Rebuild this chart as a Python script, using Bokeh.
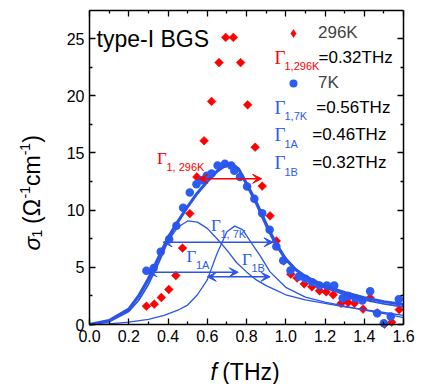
import numpy as np
from bokeh.plotting import figure
from bokeh.models import (Range1d, LinearAxis, FixedTicker, Label, Arrow, VeeHead,
                          Legend, LegendItem, PrintfTickFormatter)
from bokeh.embed import file_html
from bokeh.resources import INLINE

# ---- data ----
red_x = [0.290, 0.330, 0.366, 0.404, 0.440, 0.474, 0.511, 0.547, 0.584, 0.622, 0.660, 0.694,
         0.733, 0.770, 0.806, 0.844, 0.880, 0.920, 0.952, 0.990, 1.026, 1.058, 1.094, 1.133,
         1.172, 1.206, 1.242, 1.282, 1.318, 1.350, 1.394, 1.430, 1.466, 1.503, 1.540, 1.578]
red_y = [1.60, 1.78, 2.36, 3.06, 4.28, 6.68, 9.70, 12.90, 16.06, 19.50, 22.90, 25.10,
         25.10, 22.90, 19.20, 15.50, 12.10, 9.50, 7.30, 5.57, 4.40, 4.06, 3.55, 3.30,
         2.95, 2.85, 2.60, 1.85, 1.93, 1.85, 1.35, 2.33, 1.02, 0.03, 0.20, 1.30]

blue_x = [0.290, 0.327, 0.363, 0.406, 0.443, 0.477, 0.511, 0.545, 0.572, 0.597, 0.622, 0.653,
          0.690, 0.722, 0.738, 0.767, 0.803, 0.840, 0.880, 0.918, 0.952, 0.987, 1.024, 1.067,
          1.100, 1.135, 1.172, 1.210, 1.247, 1.290, 1.320, 1.355, 1.390, 1.430, 1.466, 1.500,
          1.535, 1.576]
blue_y = [4.69, 4.93, 6.35, 7.46, 8.63, 10.20, 11.54, 12.27, 12.60, 13.00, 13.20, 13.90,
          14.05, 13.90, 13.45, 12.90, 12.06, 10.99, 9.73, 8.28, 6.82, 5.60, 4.72, 4.20,
          4.00, 3.70, 3.40, 3.40, 3.40, 2.30, 2.50, 2.30, 2.10, 2.90, 0.99, 0.10,
          0.70, 2.20]

# fit curves
fit_x = [0, 0.1, 0.2, 0.25, 0.3, 0.35, 0.4, 0.45, 0.5, 0.55, 0.6, 0.65, 0.7, 0.73, 0.76,
         0.8, 0.85, 0.9, 0.95, 1.0, 1.05, 1.1, 1.2, 1.3, 1.4, 1.5, 1.6]
fit_y = [0, 0.35, 1.35, 2.5, 4.0, 5.8, 7.6, 9.0, 10.3, 11.5, 12.5, 13.4, 14.0, 14.0, 13.6,
         12.3, 10.6, 8.7, 7.0, 5.7, 4.8, 4.2, 3.35, 2.8, 2.35, 2.0, 1.75]
sum_x = [0, 0.1, 0.2, 0.25, 0.3, 0.35, 0.4, 0.45, 0.5, 0.55, 0.6, 0.65, 0.7, 0.73, 0.76,
         0.8, 0.85, 0.9, 0.95, 1.0, 1.05, 1.1, 1.2, 1.3, 1.4, 1.5, 1.6]
sum_y = [0, 0.25, 1.15, 2.1, 3.5, 5.3, 7.3, 8.9, 10.3, 11.5, 12.5, 13.4, 13.95, 13.95, 13.6,
         12.4, 10.8, 8.9, 7.2, 5.8, 4.85, 4.15, 3.2, 2.6, 2.15, 1.8, 1.55]
osc1a_x = [0, 0.1, 0.2, 0.25, 0.3, 0.35, 0.4, 0.45, 0.5, 0.55, 0.6, 0.65, 0.7, 0.75, 0.8,
           0.85, 0.9, 0.95, 1.0, 1.1, 1.2, 1.3, 1.4, 1.5, 1.6]
osc1a_y = [0, 0.3, 1.3, 2.4, 3.8, 5.6, 7.3, 8.5, 9.05, 8.95, 8.4, 7.5, 6.5, 5.4, 4.6,
           3.9, 3.4, 3.0, 2.6, 2.15, 1.85, 1.55, 1.3, 1.05, 0.8]
osc1b_x = [0, 0.1, 0.2, 0.3, 0.38, 0.45, 0.5, 0.55, 0.6, 0.65, 0.7, 0.74, 0.78, 0.83, 0.87,
           0.92, 1.0, 1.1, 1.2, 1.3, 1.4, 1.5, 1.6]
osc1b_y = [0, 0.05, 0.2, 0.45, 0.8, 1.25, 1.7, 2.6, 3.9, 6.2, 8.1, 8.6, 8.3, 7.0, 6.0,
           4.6, 3.25, 2.4, 1.95, 1.6, 1.25, 0.95, 0.6]

# widths (Gamma) and where the double arrows sit
gamma_names = ["1, 296K", "1, 7K", "1A", "1B"]
gamma_vals = [0.32, 0.56, 0.46, 0.32]
arrow_left = [0.557, 0.375, 0.298, 0.600]
arrow_level = [12.74, 7.19, 4.57, 4.17]

legend_labels = ["296K", "7K"]

# axis ticks
x_ticks = [0.0, 0.2, 0.4, 0.6, 0.8, 1.0, 1.2, 1.4, 1.6]
x_minor = [0.1, 0.3, 0.5, 0.7, 0.9, 1.1, 1.3, 1.5]
y_ticks = [0, 5, 10, 15, 20, 25]
y_minor = [2.5, 7.5, 12.5, 17.5, 22.5]
X_MAX, Y_MAX = 1.6, 27.45

RED = "#ff0000"
BLUE = "#2b5cf4"
LINE = "#2a55e8"

# page geometry of the plotting box (pixels)
W, H = 428, 384
BOX_L, BOX_R, BOX_T, BOX_B = 89.0, 403.0, 10.0, 324.0
kx = (BOX_R - BOX_L) / X_MAX
ky = (BOX_B - BOX_T) / Y_MAX

p = figure(width=W, height=H, output_backend="svg", toolbar_location=None,
           x_range=Range1d(-BOX_L / kx, (W - BOX_L) / kx),
           y_range=Range1d(-(H - BOX_B) / ky, BOX_B / ky),
           min_border_left=0, min_border_right=0, min_border_top=0, min_border_bottom=0,
           x_axis_type=None, y_axis_type=None)
p.outline_line_color = None
p.background_fill_color = "white"
p.border_fill_color = "white"


def X(sx):  # page pixel -> data x
    return (sx - BOX_L) / kx


def Y(sy):  # page pixel -> data y
    return (BOX_B - sy) / ky


def make_axis(ticks, minor, fmt, loc, bounds, labels=True):
    ax = LinearAxis(ticker=FixedTicker(ticks=ticks, minor_ticks=minor),
                    fixed_location=loc, bounds=bounds)
    ax.formatter = PrintfTickFormatter(format=fmt)
    ax.major_tick_in = 6
    ax.major_tick_out = 0
    ax.minor_tick_in = 3
    ax.minor_tick_out = 0
    ax.axis_line_width = 1.5
    ax.axis_line_color = "black"
    ax.major_tick_line_width = 1.3
    ax.minor_tick_line_width = 1.3
    ax.major_label_text_font = "Liberation Sans"
    ax.major_label_text_font_size = "16px"
    if labels:
        ax.major_label_text_color = "black"
        ax.major_label_standoff = 5
    else:
        ax.major_label_text_color = None
    return ax


p.add_layout(make_axis(x_ticks, x_minor, "%.1f", 0, (0, X_MAX)), "below")
p.add_layout(make_axis(y_ticks, y_minor, "%d", 0, (0, Y_MAX)), "left")
p.add_layout(make_axis(x_ticks, x_minor, "%.1f", Y_MAX, (0, X_MAX), False), "above")
p.add_layout(make_axis(y_ticks, y_minor, "%d", X_MAX, (0, Y_MAX), False), "right")

red = p.scatter(red_x, red_y, marker="square", angle=np.pi / 4, size=6.2,
                fill_color=RED, line_color=RED, line_width=0.5)
blue = p.scatter(blue_x, blue_y, marker="circle", size=8.5, fill_color=BLUE, line_color=None)
# legend key for the diamonds (a single NaN point, so nothing is drawn on the plot)
red_key = p.scatter([np.nan], [np.nan], marker="diamond", size=9, fill_color=RED,
                    line_color=RED, line_width=0.5)

p.line(osc1a_x, osc1a_y, line_width=1.3, line_color=LINE)
p.line(osc1b_x, osc1b_y, line_width=1.3, line_color=LINE)
p.line(sum_x, sum_y, line_width=1.8, line_color=LINE)
p.line(fit_x, fit_y, line_width=3, line_color=LINE)

arrow_colors = [RED, LINE, LINE, LINE]
for xl, g, yv, c in zip(arrow_left, gamma_vals, arrow_level, arrow_colors):
    p.add_layout(Arrow(start=VeeHead(size=9, fill_color=c, line_color=c, line_width=1),
                       end=VeeHead(size=9, fill_color=c, line_color=c, line_width=1),
                       x_start=xl, y_start=yv, x_end=xl + g, y_end=yv,
                       line_color=c, line_width=1.6))

legend = Legend(items=[LegendItem(label=legend_labels[0], renderers=[red_key], index=0),
                       LegendItem(label=legend_labels[1], renderers=[blue])],
                location=(283, H - 94.3), orientation="vertical", spacing=28, padding=0,
                margin=0, glyph_width=20, glyph_height=20, label_standoff=15, label_height=22,
                label_text_font="Liberation Sans", label_text_font_size="17px",
                border_line_color=None, background_fill_alpha=0)
p.add_layout(legend)


def lab(text, sx, sy, size, color="black", font="Liberation Sans", style="normal", angle=0.0):
    p.add_layout(Label(x=X(sx), y=Y(sy), text=text, text_font=font,
                       text_font_size=f"{size}px", text_color=color, text_font_style=style,
                       text_baseline="middle", text_align="left", angle=angle))


SERIF = "Liberation Serif"
lab("type-I BGS", 96, 38, 23)

# legend-side gamma texts
leg_rows = [(56.7, RED, 0), (106.7, BLUE, 1), (134.0, BLUE, 2), (162.0, BLUE, 3)]
eq_x = [318, 315.7, 311.7, 311.7]
for (sy, c, i), ex in zip(leg_rows, eq_x):
    lab("\u0393", 274, sy, 19, c, SERIF)
    lab(gamma_names[i].replace(", ", ","), 284, sy + 9, 11, c)
    lab(f"={gamma_vals[i]:.2f}THz", ex, sy, 17)

# in-plot gamma labels
in_pos = [(156.5, 157.5, RED), (210.5, 224.5, BLUE), (186, 256, BLUE), (241.5, 259, BLUE)]
for i, (sx, sy, c) in enumerate(in_pos):
    lab("\u0393", sx, sy, 17, c, SERIF)
    lab(gamma_names[i], sx + 9.5, sy + 8.5, 11, c)

# x axis label
lab("f", 210, 371.7, 23, style="italic")
lab("(THz)", 221.7, 371.7, 23)

# y axis label (rotated pieces, read bottom to top)
A = np.pi / 2
yl = [("\u03c3", 0, 23, "italic", 13.0), ("1", 5, 14, "normal", 13.5),
      ("(\u03a9", 0, 23, "normal", 25.5), ("-1", -7, 14, "normal", 12.5),
      ("cm", 0, 23, "normal", 30.7), ("-1", -7, 14, "normal", 12.5), (")", 0, 23, "normal", 7.7)]
sy = 250
for txt, dx, size, style, w in yl:
    lab(txt, 31 + dx, sy, size, style=style, angle=A)
    sy -= w

open("out.html", "w").write(file_html(p, INLINE))
